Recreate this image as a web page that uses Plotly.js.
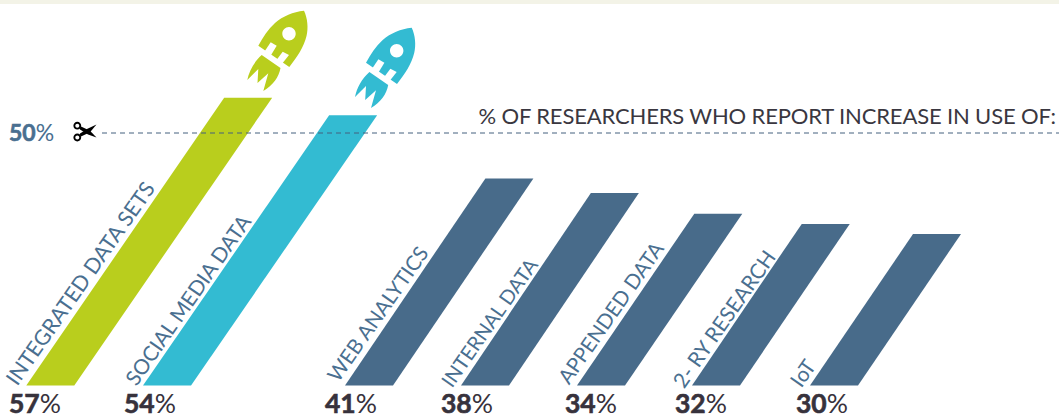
<!DOCTYPE html>
<html>
<head>
<meta charset="utf-8">
<script src="https://cdn.plot.ly/plotly-3.0.1.min.js"></script>
<style>
html,body{margin:0;padding:0;background:#fff;overflow:hidden}
#chart{width:1059px;height:419px}
.annotation[data-index="0"] text{letter-spacing:-0.15px}
.annotation tspan[style*="bold"]{stroke:#37323c;stroke-width:.6px}
.annotation[data-index="1"] tspan[style*="bold"]{stroke:#4a6f90}
</style>
</head>
<body>
<div id="chart"></div>
<script>
// ---- data ----
const categories = ["INTEGRATED DATA SETS","SOCIAL MEDIA DATA","WEB ANALYTICS","INTERNAL DATA","APPENDED DATA","2- RY RESEARCH","IoT"];
const percentLabels = [57,54,41,38,34,32,30];
const barHeights = [57,53.5,41,38.1,34,32,30];   // drawn height of each bar, in % units
const threshold = [50,50];
const thresholdLabel = 50;
const chartTitle = "% OF RESEARCHERS WHO REPORT INCREASE IN USE OF:";

// ---- layout constants ----
const W = 1059, H = 419, BASE = 385.5, PX_PER_PCT = 5.05;
const slants = [0.6875,0.689,0.678,0.675,0.683,0.679,0.68], BAR_W = 48;
const baseX = [26.3,143,345,461,577,692,810];
const labelX = [9,124,325,441,565,675,796];
const nameCenter = [[80,283],[187,299],[377,314],[489,322],[610,313],[723,318],[802,372]];
const nameSize = [21.3,20.8,20.6,20,20.6,21,21];
const colors = ["#b9ce1d","#33bbd2","#486b8a","#486b8a","#486b8a","#486b8a","#486b8a"];
const v = py => (BASE - py) / PX_PER_PCT;

const traces = categories.map((c,i) => {
  const shift = barHeights[i] * PX_PER_PCT * slants[i];
  return {
    type:"scatter", mode:"lines", fill:"toself", fillcolor:colors[i],
    line:{width:0,color:colors[i]}, hoverinfo:"skip", showlegend:false, name:c,
    x:[baseX[i], baseX[i]+BAR_W, baseX[i]+BAR_W+shift, baseX[i]+shift, baseX[i]],
    y:[0,0,barHeights[i],barHeights[i],0]
  };
});
traces.push({type:"scatter",mode:"lines",x:[102,W],y:threshold,hoverinfo:"skip",showlegend:false,
  line:{color:"#44607f",width:1,dash:"5px,4px"}});

// converts a pixel-drawn icon path to axis units
function path(str,dx,dy){
  let isX=true;
  return str.replace(/-?\d+(\.\d+)?/g,n=>{
    const r=isX?(+n+dx).toFixed(2):v(+n+dy).toFixed(3);
    isX=!isX; return r;
  });
}
function circle(cx,cy,r){
  const k=r*0.5523;
  return `M${cx-r} ${cy} C${cx-r} ${cy-k} ${cx-k} ${cy-r} ${cx} ${cy-r} C${cx+k} ${cy-r} ${cx+r} ${cy-k} ${cx+r} ${cy} C${cx+r} ${cy+k} ${cx+k} ${cy+r} ${cx} ${cy+r} C${cx-k} ${cy+r} ${cx-r} ${cy+k} ${cx-r} ${cy} Z`;
}
const rocketBody = "M304 10.7 C307.5 18 308.5 28 306.5 36 C304 47 297 57 289.3 67 L258.3 45.7 C263 37 268 29.5 275 23 C283 16 293 12 304 10.7 Z " + circle(289,33.7,6.7);
const notch1 = "M270.7 42.3 L276.7 45.7 L270 56.7 L264 52.3 Z";
const notch2 = "M282.7 51.7 L289 55 L280.7 65.5 L275 62 Z";
const rocketFins = "M261.7 55 L280.5 68 C279 77 273 85 263.3 91 L268.3 73.3 L257.5 83 L258.3 69 L247.3 80 C249 71 254 62 261.7 55 Z";
function pshape(d,fill,dx=0,dy=0){
  return {type:"path",xref:"x",yref:"y",layer:"above",path:path(d,dx,dy),fillcolor:fill,line:{width:0}};
}
const rocketOffsets=[[0,0],[107.7,17]];
const shapes=[{type:"rect",xref:"paper",yref:"paper",x0:0,x1:1,y0:1-4/H,y1:1,fillcolor:"#f3f3e7",line:{width:0},layer:"below"}];
rocketOffsets.forEach((o,i)=>{
  shapes.push(pshape(rocketBody,colors[i],o[0],o[1]));
  shapes.push(pshape(notch1,"#fff",o[0],o[1]));
  shapes.push(pshape(notch2,"#fff",o[0],o[1]));
  shapes.push(pshape(rocketFins,colors[i],o[0],o[1]));
});
// scissors
shapes.push(pshape("M79.5 128 L81 126.5 L90 130.8 L96.5 137.5 L88 134.5 L80 129.5 Z","#000"));
shapes.push(pshape("M79.5 135 L81 136.5 L90 132.2 L96.5 124.5 L88 128.5 L80 133.5 Z","#000"));
shapes.push(pshape(circle(77.3,125.7,3.9)+" "+circle(77.3,125.7,2),"#000"));
shapes.push(pshape(circle(77.3,137.5,3.9)+" "+circle(77.3,137.5,2),"#000"));

const annotations=[{
  x:1058,y:v(115.5),xanchor:"right",yanchor:"middle",showarrow:false,text:chartTitle,xshift:3,
  font:{family:"Lato",size:22,color:"#3a3740"}
},{
  x:9,y:v(132),xanchor:"left",yanchor:"middle",showarrow:false,text:"<b>"+thresholdLabel+"</b>%",
  font:{family:"Lato",size:23,color:"#4a6f90"},xshift:-2
}];
categories.forEach((c,i)=>{
  annotations.push({x:nameCenter[i][0],y:v(nameCenter[i][1]),xanchor:"center",yanchor:"middle",showarrow:false,
    text:c,textangle:-55,font:{family:"Lato",size:nameSize[i],color:"#4a6f90"}});
  annotations.push({x:labelX[i],y:v(403.3),xanchor:"left",yanchor:"middle",showarrow:false,xshift:-2,
    text:"<b>"+percentLabels[i]+"</b>%",font:{family:"Lato",size:26.5,color:"#37323c"}});
});

Plotly.newPlot("chart",traces,{
  width:W,height:H,margin:{l:0,r:0,t:0,b:0},paper_bgcolor:"#fff",plot_bgcolor:"#fff",showlegend:false,
  xaxis:{range:[0,W],visible:false,fixedrange:true},
  yaxis:{range:[v(H),v(0)],visible:false,fixedrange:true},
  shapes,annotations,hovermode:false
},{displayModeBar:false,staticPlot:true});
</script>
</body>
</html>
